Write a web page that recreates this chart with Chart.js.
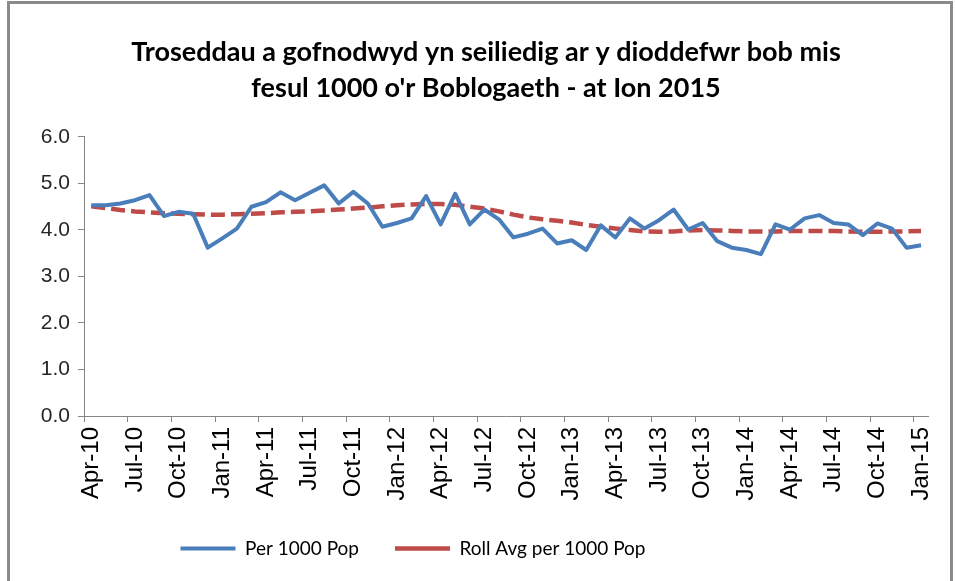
<!DOCTYPE html>
<html>
<head>
<meta charset="utf-8">
<script src="https://cdn.jsdelivr.net/npm/chart.js@4.4.1/dist/chart.umd.min.js"></script>
<style>
html, body { margin: 0; padding: 0; background: #fff; }
#wrap { position: relative; width: 955px; height: 581px; overflow: hidden; }
#frame { position: absolute; left: 7px; top: 1px; width: 946px; height: 620px; border: 3px solid #8a8a8a; box-sizing: border-box; pointer-events: none; }
</style>
</head>
<body>
<div id="wrap">
  <canvas id="chart1" width="955" height="581"></canvas>
  <div id="frame"></div>
</div>
<script>
const months = [
  'Apr-10', 'May-10', 'Jun-10', 'Jul-10', 'Aug-10', 'Sep-10', 'Oct-10', 'Nov-10', 'Dec-10',
  'Jan-11', 'Feb-11', 'Mar-11', 'Apr-11', 'May-11', 'Jun-11', 'Jul-11', 'Aug-11', 'Sep-11', 'Oct-11', 'Nov-11', 'Dec-11',
  'Jan-12', 'Feb-12', 'Mar-12', 'Apr-12', 'May-12', 'Jun-12', 'Jul-12', 'Aug-12', 'Sep-12', 'Oct-12', 'Nov-12', 'Dec-12',
  'Jan-13', 'Feb-13', 'Mar-13', 'Apr-13', 'May-13', 'Jun-13', 'Jul-13', 'Aug-13', 'Sep-13', 'Oct-13', 'Nov-13', 'Dec-13',
  'Jan-14', 'Feb-14', 'Mar-14', 'Apr-14', 'May-14', 'Jun-14', 'Jul-14', 'Aug-14', 'Sep-14', 'Oct-14', 'Nov-14', 'Dec-14',
  'Jan-15'
];

const perPop = [
  4.53, 4.53, 4.57, 4.64, 4.75, 4.30, 4.39, 4.35, 3.62, 3.82,
  4.03, 4.50, 4.60, 4.81, 4.64, 4.80, 4.96, 4.57, 4.82, 4.57,
  4.07, 4.15, 4.25, 4.73, 4.12, 4.78, 4.12, 4.44, 4.23, 3.84,
  3.92, 4.03, 3.71, 3.78, 3.57, 4.10, 3.84, 4.25, 4.03, 4.21,
  4.44, 4.01, 4.15, 3.76, 3.62, 3.57, 3.48, 4.12, 4.01, 4.25,
  4.32, 4.15, 4.12, 3.89, 4.14, 4.03, 3.62, 3.67
];

const rollAvg = [
  4.51, 4.47, 4.43, 4.40, 4.38, 4.36, 4.35, 4.34, 4.33, 4.33,
  4.34, 4.35, 4.36, 4.38, 4.39, 4.40, 4.42, 4.44, 4.46, 4.48,
  4.51, 4.53, 4.55, 4.56, 4.56, 4.54, 4.50, 4.46, 4.40, 4.33,
  4.27, 4.23, 4.20, 4.16, 4.11, 4.07, 4.03, 4.00, 3.97, 3.96,
  3.97, 3.99, 4.00, 3.99, 3.98, 3.97, 3.97, 3.97, 3.98, 3.98,
  3.98, 3.98, 3.97, 3.96, 3.96, 3.97, 3.97, 3.98
];

const titleLines = [
  'Troseddau a gofnodwyd yn seiliedig ar y dioddefwr bob mis',
  "fesul 1000 o'r Boblogaeth - at Ion 2015"
];

const axisGrey = '#868686';

// nudge the legend left, as in the original
const legendShift = {
  id: 'legendShift',
  beforeDraw(chart) {
    if (chart.legend && !chart.legend._shifted) {
      chart.legend.left -= 73;
      chart.legend.right -= 73;
      chart.legend._shifted = true;
    }
  }
};

var ctx = document.getElementById('chart1').getContext('2d');
new Chart(ctx, {
  type: 'line',
  data: {
    labels: months,
    datasets: [{
      label: 'Per 1000 Pop',
      data: perPop,
      borderColor: '#4A7EBB',
      backgroundColor: '#4A7EBB',
      borderWidth: 4,
      borderJoinStyle: 'round',
      pointRadius: 0,
      tension: 0
    }, {
      label: 'Roll Avg per 1000 Pop',
      data: rollAvg,
      borderColor: '#BE4B48',
      backgroundColor: '#BE4B48',
      borderWidth: 4.5,
      borderDash: [14, 6],
      pointRadius: 0,
      tension: 0
    }]
  },
  options: {
    responsive: false,
    animation: false,
    layout: { padding: { left: 32, right: 15, top: 0, bottom: 13 } },
    plugins: {
      title: {
        display: true,
        text: titleLines,
        color: '#000',
        font: { family: 'Lato', size: 27, weight: 'bold', lineHeight: 1.333 },
        padding: { top: 34, bottom: 31 }
      },
      legend: {
        position: 'bottom',
        labels: {
          usePointStyle: true,
          pointStyle: 'line',
          pointStyleWidth: 55,
          color: '#000',
          font: { family: 'Lato', size: 19 },
          padding: 36
        }
      },
      tooltip: { enabled: false }
    },
    scales: {
      x: {
        offset: true,
        grid: {
          offset: true,
          drawOnChartArea: false,
          tickLength: 6,
          color: c => (c.index % 3 === 0 ? axisGrey : 'rgba(0,0,0,0)')
        },
        border: { color: axisGrey, width: 1 },
        ticks: {
          autoSkip: false,
          minRotation: 90,
          maxRotation: 90,
          padding: 5,
          color: '#000',
          font: { family: 'Liberation Sans', size: 24 },
          callback: (v, i) => (i % 3 === 0 ? months[i] : '')
        },
        afterFit: s => { s.height = 87; }
      },
      y: {
        min: 0,
        max: 6,
        grid: { drawOnChartArea: false, tickLength: 6, color: axisGrey },
        border: { color: axisGrey, width: 1 },
        ticks: {
          stepSize: 1,
          padding: 8,
          color: '#262626',
          font: { family: 'Liberation Sans', size: 21 },
          callback: v => v.toFixed(1)
        },
        afterFit: s => { s.width = 52; }
      }
    }
  },
  plugins: [legendShift]
});
</script>
</body>
</html>
